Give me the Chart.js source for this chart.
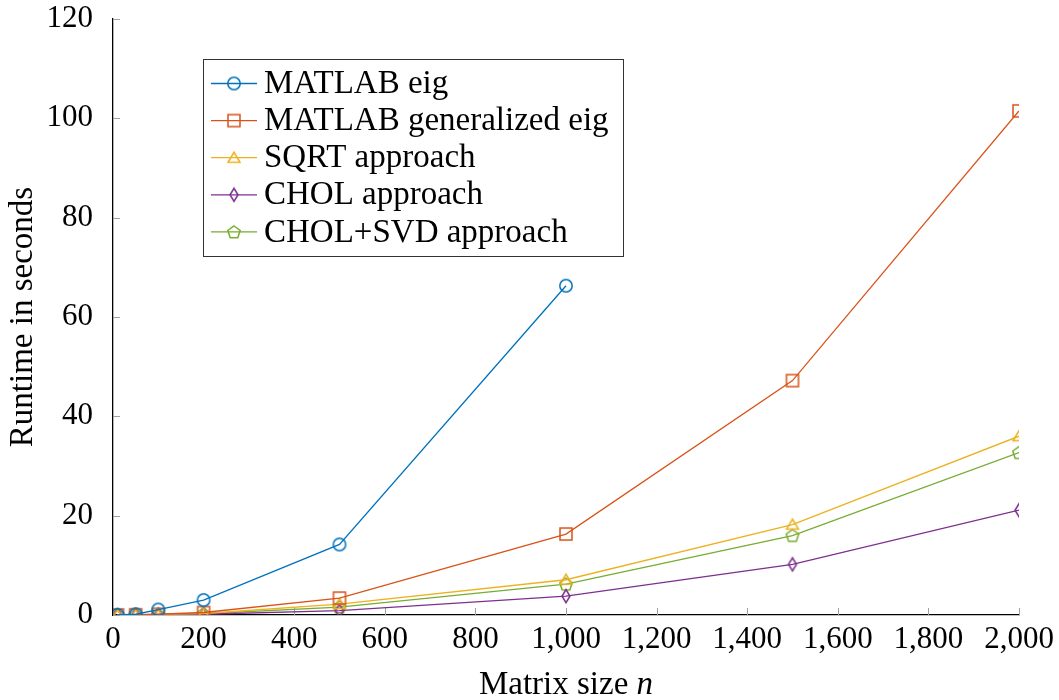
<!DOCTYPE html>
<html>
<head>
<meta charset="utf-8">
<script src="https://cdn.jsdelivr.net/npm/chart.js@4.4.1/dist/chart.umd.min.js"></script>
<style>
  html, body { margin: 0; padding: 0; background: #fff; }
  #wrap { width: 1059px; height: 700px; }
</style>
</head>
<body>
<div id="wrap"><canvas id="myChart"></canvas></div>
<script>
  // matrix sizes n
  const sizes = [10, 50, 100, 200, 500, 1000, 1500, 2000];

  // runtimes in seconds
  const matlabEig = [0.02, 0.15, 1.1, 3.0, 14.2, 66.3];
  const matlabGenEig = [0.02, 0.05, 0.15, 0.5, 3.4, 16.3, 47.2, 101.5];
  const sqrtApproach = [0.01, 0.03, 0.1, 0.3, 2.2, 7.1, 18.2, 36.0];
  const cholApproach = [0.01, 0.02, 0.06, 0.15, 0.9, 3.8, 10.2, 21.1];
  const cholSvdApproach = [0.01, 0.03, 0.08, 0.25, 1.6, 6.2, 16.0, 32.7];

  const seriesNames = ['MATLAB eig', 'MATLAB generalized eig', 'SQRT approach', 'CHOL approach', 'CHOL+SVD approach'];
  const seriesColors = ['#0072BD', '#D95319', '#EDB120', '#7E2F8E', '#77AC30'];

  const xTicks = [0, 200, 400, 600, 800, 1000, 1200, 1400, 1600, 1800, 2000];
  const yTicks = [0, 20, 40, 60, 80, 100, 120];

  const FONT = '"Liberation Serif", "DejaVu Serif", serif';

  // hollow marker images, like the pgfplots marks
  function makeMarker(shape, color) {
    const c = document.createElement('canvas');
    c.width = 18; c.height = 18;
    const g = c.getContext('2d');
    g.strokeStyle = color;
    g.lineWidth = 1.5;
    g.beginPath();
    if (shape === 'circle') {
      g.arc(9, 9, 6.2, 0, Math.PI * 2);
    } else if (shape === 'square') {
      g.rect(3, 3, 12, 12);
    } else if (shape === 'triangle') {
      g.moveTo(9, 3.5); g.lineTo(15, 13.5); g.lineTo(3, 13.5); g.closePath();
    } else if (shape === 'diamond') {
      g.moveTo(9, 2.5); g.lineTo(13, 9); g.lineTo(9, 15.5); g.lineTo(5, 9); g.closePath();
    } else {
      for (let k = 0; k < 5; k++) {
        const a = -Math.PI / 2 + k * 2 * Math.PI / 5;
        const px = 9 + 6.5 * Math.cos(a), py = 9.5 + 6.5 * Math.sin(a);
        if (k === 0) g.moveTo(px, py); else g.lineTo(px, py);
      }
      g.closePath();
    }
    g.stroke();
    return c;
  }

  const shapes = ['circle', 'square', 'triangle', 'diamond', 'pentagon'];
  const markers = shapes.map((s, i) => makeMarker(s, seriesColors[i]));
  const seriesValues = [matlabEig, matlabGenEig, sqrtApproach, cholApproach, cholSvdApproach];

  const datasets = seriesValues.map((vals, i) => ({
    label: seriesNames[i],
    data: vals.map((v, j) => ({x: sizes[j], y: v})),
    borderColor: seriesColors[i],
    backgroundColor: seriesColors[i],
    borderWidth: 1.3,
    pointStyle: markers[i],
    pointRadius: 7,
    tension: 0,
    fill: false,
  }));

  // inside tick marks, axis titles and the boxed legend
  const decor = {
    id: 'decor',
    beforeDatasetsDraw(chart) {
      const {ctx, chartArea: a, scales} = chart;
      ctx.save();
      ctx.strokeStyle = '#a0a0a0';
      ctx.lineWidth = 1;
      xTicks.forEach(t => {
        const x = Math.round(scales.x.getPixelForValue(t)) + 0.5;
        ctx.beginPath(); ctx.moveTo(x, a.bottom); ctx.lineTo(x, a.bottom - 7); ctx.stroke();
      });
      yTicks.forEach(t => {
        const y = Math.round(scales.y.getPixelForValue(t)) + 0.5;
        ctx.beginPath(); ctx.moveTo(a.left, y); ctx.lineTo(a.left + 7, y); ctx.stroke();
      });
      ctx.restore();
    },
    afterDraw(chart) {
      const {ctx, chartArea: a} = chart;
      ctx.save();
      ctx.fillStyle = '#000';
      ctx.textBaseline = 'middle';

      // x title with italic n
      ctx.font = '33px ' + FONT;
      const part1 = 'Matrix size ';
      const w1 = ctx.measureText(part1).width;
      ctx.font = 'italic 33px ' + FONT;
      const w2 = ctx.measureText('n').width;
      const x0 = (a.left + a.right) / 2 - (w1 + w2) / 2;
      ctx.font = '33px ' + FONT;
      ctx.textAlign = 'left';
      ctx.fillText(part1, x0, 685);
      ctx.font = 'italic 33px ' + FONT;
      ctx.fillText('n', x0 + w1, 685);

      // y title
      ctx.translate(23, (a.top + a.bottom) / 2);
      ctx.rotate(-Math.PI / 2);
      ctx.font = '33px ' + FONT;
      ctx.textAlign = 'center';
      ctx.fillText('Runtime in seconds', 0, 0);
      ctx.setTransform(1, 0, 0, 1, 0, 0);

      // legend box
      const bx = 203.5, by = 59.5, bw = 420, bh = 197;
      ctx.fillStyle = '#fff';
      ctx.fillRect(bx, by, bw, bh);
      ctx.strokeStyle = '#333';
      ctx.lineWidth = 1;
      ctx.strokeRect(bx, by, bw, bh);
      ctx.font = '33px ' + FONT;
      ctx.textAlign = 'left';
      seriesNames.forEach((name, i) => {
        const y = 83.5 + i * 37.1;
        ctx.strokeStyle = seriesColors[i];
        ctx.lineWidth = 1.3;
        ctx.beginPath(); ctx.moveTo(211, y); ctx.lineTo(257, y); ctx.stroke();
        ctx.drawImage(markers[i], 234 - 9, y - 9);
        ctx.fillStyle = '#000';
        ctx.fillText(name, 264, y + 1);
      });
      ctx.restore();
    }
  };

  const ctx = document.getElementById('myChart').getContext('2d');
  const myChart = new Chart(ctx, {
    type: 'line',
    data: { datasets: datasets },
    options: {
      responsive: true,
      maintainAspectRatio: false,
      animation: false,
      layout: { padding: { left: 0, right: 40, top: 19, bottom: 0 } },
      plugins: {
        legend: { display: false },
        tooltip: { enabled: false }
      },
      scales: {
        x: {
          type: 'linear',
          min: 0,
          max: 2000,
          afterBuildTicks: (scale) => { scale.ticks = xTicks.map(v => ({value: v})); },
          afterFit: (scale) => { scale.height = 85; },
          ticks: {
            color: '#000',
            padding: -2,
            maxRotation: 0,
            autoSkip: false,
            font: { family: FONT, size: 31 }
          },
          grid: { display: false },
          border: { display: true, color: '#000', width: 1.3 }
        },
        y: {
          min: 0,
          max: 120,
          afterBuildTicks: (scale) => { scale.ticks = yTicks.map(v => ({value: v})); },
          afterFit: (scale) => { scale.width = 113; },
          ticks: {
            color: '#000',
            padding: 12,
            font: { family: FONT, size: 31, lineHeight: 0.4 }
          },
          grid: { display: false },
          border: { display: true, color: '#000', width: 1.3 }
        }
      }
    },
    plugins: [decor]
  });
</script>
</body>
</html>
